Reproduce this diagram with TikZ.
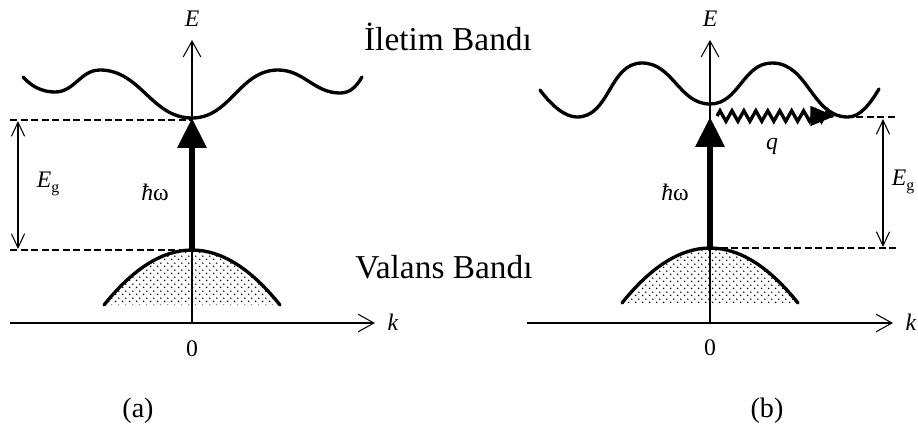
\documentclass[tikz,border=0pt]{standalone}
\usepackage{fontspec}
\setmainfont{Liberation Serif}
\usepackage{tikz}
\usetikzlibrary{arrows.meta, positioning, patterns, decorations.pathmorphing}

\pgfdeclarepatternformonly{filldots}{\pgfpointorigin}{\pgfpoint{3.8pt}{3.8pt}}{\pgfpoint{3.8pt}{3.8pt}}{%
  \pgfpathcircle{\pgfpoint{0.95pt}{0.95pt}}{0.5pt}
  \pgfpathcircle{\pgfpoint{2.85pt}{2.85pt}}{0.5pt}
  \pgfusepath{fill}}

\begin{document}
\begin{tikzpicture}[
    x=0.02cm, y=-0.02cm,
    band/.style={line width=1.9pt, line cap=round},
    axisline/.style={-{Straight Barb[length=9pt,width=10pt]}, line width=0.6pt},
    guide/.style={dashed, dash pattern=on 4pt off 2pt, line width=0.6pt},
    gaparrow/.style={{Straight Barb[length=8pt,width=7.5pt]}-{Straight Barb[length=8pt,width=7.5pt]}, line width=0.6pt},
    photon/.style={-{Triangle[length=17pt,width=16pt]}, line width=3.2pt},
    phonon/.style={-{Triangle[length=14pt,width=11pt]}, line width=1.9pt,
                   decorate, decoration={zigzag, segment length=6.8pt, amplitude=3pt, post length=1pt}},
    lbl/.style={font=\fontsize{13.5}{15}\selectfont, inner sep=0pt},
    bandname/.style={font=\fontsize{19}{22}\selectfont, inner sep=0pt, anchor=base},
    caption/.style={font=\fontsize{16}{18}\selectfont, inner sep=0pt},
  ]
    \useasboundingbox (0,0) rectangle (918,430);

    % (a) direct gap
    \coordinate (a-left)  at (10,323);
    \coordinate (a-right) at (375,323);
    \coordinate (a-org)   at (192,323);
    \coordinate (a-top)   at (192,40);
    \coordinate (a-cmin)  at (192,118);
    \coordinate (a-vmax)  at (192,250);

    \fill[pattern=filldots] (104,305) .. controls (162.7,231.7) and (221.3,231.7) .. (280,305) -- cycle;
    \draw[axisline] (a-left) -- (a-right);
    \draw[axisline] (a-org) -- (a-top);
    \draw[band] (104,305) .. controls (162.7,231.7) and (221.3,231.7) .. (280,305);
    \draw[band] (23,77) .. controls (33,88) and (44,92) .. (55,92)
        to[out=0,in=180] (100,70) to[out=0,in=180] (a-cmin)
        to[out=0,in=180] (278,70) to[out=0,in=180] (340,93)
        .. controls (350,93) and (356,87) .. (362,77);

    \coordinate (a-gtop) at (10,120);
    \coordinate (a-gbot) at (10,250);
    \draw[guide] (a-gtop) -- (192,120);
    \draw[guide] (a-gbot) -- (a-vmax);
    \draw[gaparrow] (18,121) -- (18,249);
    \draw[photon] (a-vmax) -- (a-cmin);

    \node[lbl] (a-E)  at (192,19)  {\textit{E}};
    \node[lbl] (a-k)  at (393,322) {\textit{k}};
    \node[lbl] (a-0)  at (192,349) {0};
    \node[lbl] (a-hw) at (155,192) {\textit{ħ}ω};
    \node[lbl] (a-Eg) at (48,184)  {\textit{E}\raisebox{-0.5ex}{\small g}};
    \node[caption] (a-cap) at (138,411) {(a)};

    \node[bandname] (cb) at (448,50)  {İletim Bandı};
    \node[bandname] (vb) at (444,278) {Valans Bandı};

    % (b) indirect gap
    \coordinate (b-left)  at (527,323);
    \coordinate (b-right) at (893,323);
    \coordinate (b-org)   at (710,323);
    \coordinate (b-top)   at (710,40);
    \coordinate (b-cmin)  at (848,117);
    \coordinate (b-vmax)  at (710,248);
    \coordinate (b-hit)   at (710,117);

    \fill[pattern=filldots] (622,303) .. controls (680.7,229.7) and (739.3,229.7) .. (798,303) -- cycle;
    \draw[axisline] (b-left) -- (b-right);
    \draw[axisline] (b-org) -- (b-top);
    \draw[band] (622,303) .. controls (680.7,229.7) and (739.3,229.7) .. (798,303);
    \draw[band] (540,90) .. controls (552,106) and (565,117) .. (577,117)
        to[out=0,in=180] (642,63) to[out=0,in=180] (710,104)
        to[out=0,in=180] (772,63) to[out=0,in=180] (b-cmin)
        .. controls (860,117) and (870,104) .. (879,89);

    \coordinate (b-gtop) at (897,117);
    \coordinate (b-gbot) at (897,248);
    \draw[guide] (856,117) -- (b-gtop);
    \draw[guide] (b-vmax) -- (b-gbot);
    \draw[gaparrow] (883,119) -- (883,247);
    \draw[photon] (b-vmax) -- (b-hit);
    \draw[phonon] (717,116) -- (835,116);

    \node[lbl] (b-E)  at (710,19)  {\textit{E}};
    \node[lbl] (b-k)  at (911,322) {\textit{k}};
    \node[lbl] (b-0)  at (710,348) {0};
    \node[lbl] (b-hw) at (675,192) {\textit{ħ}ω};
    \node[lbl] (b-Eg) at (903,182) {\textit{E}\raisebox{-0.5ex}{\small g}};
    \node[lbl] (b-q)  at (772,146) {\textit{q}};
    \node[caption] (b-cap) at (767,411) {(b)};
\end{tikzpicture}
\end{document}
